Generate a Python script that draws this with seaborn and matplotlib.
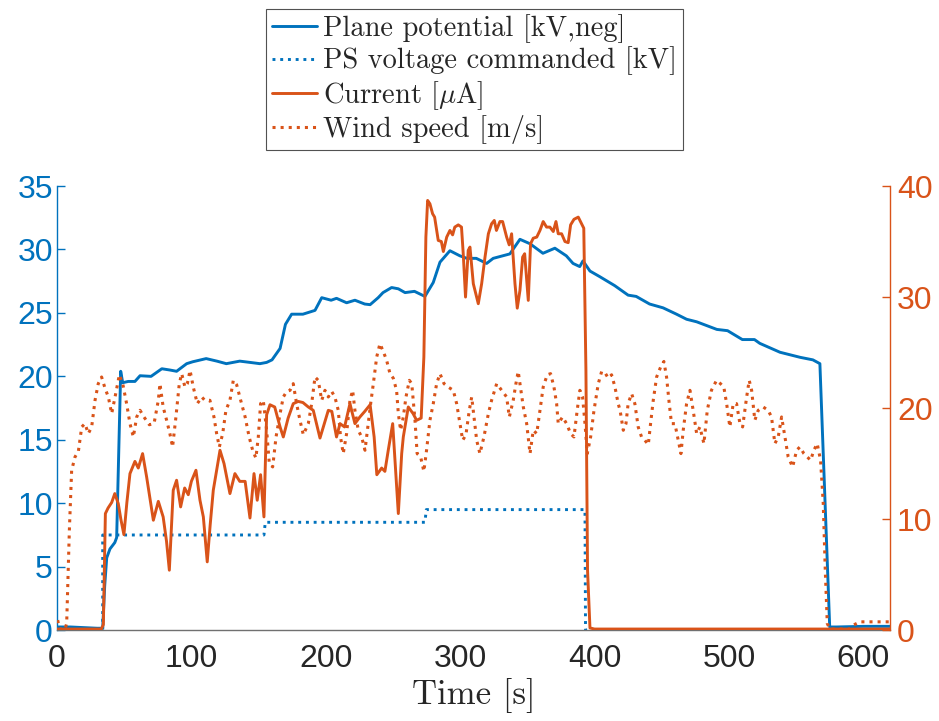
import numpy as np
import pandas as pd
import matplotlib
matplotlib.use("Agg")
import matplotlib.pyplot as plt
import seaborn as sns

# plane potential [kV] (left axis)
plane_t = [0, 10, 20, 30, 34, 35.5, 37, 39.4, 43, 44.4, 47.4, 48.9, 53, 58, 61.8, 70, 78, 84, 89,
           96.5, 101, 111, 119, 126, 136, 143.6, 151, 156, 160, 166, 170, 174.6, 183, 192, 197, 204,
           208, 215.5, 221.7, 229, 233, 239, 242.6, 249, 254, 259, 266, 273.8, 280, 285, 292.4,
           299.8, 305, 312, 319.7, 324.6, 337, 344.5, 352, 361.6, 370.5, 379, 384, 389, 391.4,
           396.6, 404, 415, 425, 431, 441, 451, 461, 468.5, 476, 491, 499, 510, 519, 523, 538, 553,
           562.5, 567.7, 575, 580, 600, 620]
plane_kv = [0.25, 0.25, 0.2, 0.15, 0.15, 3.5, 5.7, 6.4, 6.9, 7.3, 20.4, 19.5, 19.6, 19.6, 20.05,
            20.0, 20.6, 20.5, 20.4, 21.0, 21.15, 21.4, 21.2, 21.0, 21.2, 21.1, 21.0, 21.1, 21.3,
            22.2, 24.1, 24.9, 24.9, 25.2, 26.2, 26.0, 26.15, 25.8, 26.0, 25.7, 25.65, 26.2, 26.6,
            27.0, 26.9, 26.6, 26.7, 26.3, 27.4, 29.0, 29.9, 29.5, 29.3, 29.3, 28.9, 29.3, 29.65,
            30.8, 30.45, 29.7, 30.1, 29.5, 28.9, 28.65, 29.1, 28.3, 27.85, 27.15, 26.4, 26.3, 25.7,
            25.4, 24.9, 24.5, 24.3, 23.7, 23.6, 22.9, 22.9, 22.6, 21.9, 21.5, 21.3, 21.0, 0.25,
            0.25, 0.3, 0.3]

# PS voltage commanded [kV] (left axis)
ps_t = [0, 34, 34, 154, 155, 273.8, 274.8, 392.9, 393.3, 620]
ps_kv = [0, 0, 7.5, 7.5, 8.5, 8.5, 9.5, 9.5, 0, 0]

# current [uA] (right axis)
current_t = [0, 33, 34.5, 36, 38, 40.7, 43, 45.6, 47.5, 49.8, 52, 54.3, 58, 60.5, 63.7, 66.7, 71.7,
             75.4, 79, 81.5, 83.6, 86.5, 89, 92, 95, 97.7, 100, 103.4, 106.4, 108.9, 111.8, 114,
             116.3, 121.3, 124.3, 128.7, 132.4, 136, 140, 143.6, 146.6, 149, 151.5, 154, 156,
             158.5, 162, 166, 168.4, 172, 175.8, 179.5, 183, 187, 190.7, 195.7, 201.9, 204.5, 208,
             210.6, 214, 218, 221.7, 225.4, 229, 233, 236, 238, 241.6, 244, 246.5, 249.8, 251.5,
             254, 256.5, 257.7, 261.4, 265, 267.6, 271, 273, 274.5, 275.8, 277.5, 279.5, 281,
             283.7, 286, 287.5, 290, 292.4, 294.4, 296, 298.6, 301, 302.3, 304, 306, 307.3, 309.8,
             312.3, 313.5, 316, 318.5, 321, 323.4, 325.4, 327, 329.6, 331.6, 334.6, 336.5, 338.3,
             340.8, 342.5, 344.5, 346.5, 348, 349.5, 350.7, 352.4, 354.4, 357, 359.4, 361.8, 364.3,
             366.8, 369.3, 371.3, 373, 375.5, 378, 380.4, 382.2, 384.7, 387.9, 390.4, 392, 393.6,
             394.8, 396.6, 400, 620]
current_ua = [0.1, 0.1, 0.5, 10.5, 11.0, 11.5, 12.3, 11.4, 10.0, 8.6, 11.5, 14.1, 15.2, 14.6, 15.9,
              13.8, 9.9, 11.6, 10.2, 8.0, 5.4, 12.6, 13.5, 11.1, 12.8, 12.2, 13.4, 14.4, 11.7, 10.2,
              6.15, 9.5, 12.6, 16.2, 15.0, 12.3, 14.1, 13.4, 13.4, 10.1, 14.1, 11.7, 14.0, 10.2,
              19.4, 20.3, 20.1, 18.3, 17.4, 19.1, 20.4, 20.6, 20.5, 20.1, 19.8, 17.3, 19.8, 19.7,
              17.4, 18.6, 18.3, 20.4, 18.6, 19.2, 19.7, 20.3, 17.4, 14.0, 14.6, 14.3, 16.2, 18.6,
              15.3, 10.5, 15.9, 17.4, 20.1, 19.5, 18.9, 19.1, 24.6, 35.4, 38.7, 38.4, 37.5, 37.2,
              35.1, 35.0, 34.1, 35.4, 36.0, 35.6, 36.3, 36.5, 36.3, 33.9, 30.0, 34.2, 34.5, 31.2,
              30.0, 29.4, 31.2, 33.6, 35.7, 36.6, 36.9, 36.0, 36.8, 36.8, 35.4, 34.7, 35.7, 31.2,
              29.0, 30.6, 33.6, 33.9, 31.5, 29.7, 34.8, 35.3, 35.4, 36.0, 36.8, 36.3, 36.3, 35.9,
              36.8, 35.7, 35.7, 35.0, 34.9, 36.5, 37.0, 37.2, 36.6, 36.2, 23.4, 5.4, 0.2, 0.1, 0.1]

# wind speed [m/s] (right axis)
wind_t = [0.5, 2, 6, 7.2, 9.2, 10.9, 13.4, 15.9, 18.4, 20.8, 23.3, 25.8, 28.3, 30.7, 33.2, 35.7,
          38.2, 40.7, 43.2, 46.4, 48.9, 51.8, 54.3, 56.8, 59.3, 61.8, 64.7, 68.7, 72.2, 75.4, 76.6,
          79, 81.6, 84, 86, 88.5, 91, 92.8, 95.2, 97, 99, 101.4, 104.4, 107.7, 110, 113.8, 116.8,
          118.8, 120.8, 123.3, 125.7, 128.7, 131.2, 133.7, 136.7, 140, 143, 145.6, 148, 149.8,
          151.5, 153.5, 156, 158, 160.5, 163, 166, 168.4, 171, 173.4, 175.8, 178.3, 180.8, 183.3,
          187, 189.5, 192, 194.4, 197, 199.4, 201.9, 204.4, 206.8, 209.3, 211, 213, 215.5, 218,
          220, 221.7, 224.2, 226.7, 229.2, 231.6, 233.4, 235.4, 237.9, 240.3, 242.8, 245.3, 247.8,
          250.2, 252.7, 254, 255.7, 257.7, 259.7, 262.2, 264, 266.4, 268, 270.6, 273, 275, 277.5,
          280, 282.5, 285, 288, 291, 294.9, 297.4, 299.9, 301.9, 304.3, 306.8, 308.6, 310.3,
          312.3, 314.7, 317.7, 321, 323.4, 327.2, 330.9, 334.6, 336.6, 339.5, 341.5, 343.2, 344.5,
          347, 349.5, 352, 354.4, 357, 359.4, 361.8, 364.8, 367.3, 369.8, 371.8, 373, 376.2,
          379.2, 382.2, 384.7, 387.1, 389.1, 391.1, 392.9, 394.6, 397.1, 399.6, 402.8, 405.3,
          407.7, 410.2, 412.7, 415.2, 417.6, 419, 421.4, 423.4, 425, 427.6, 430, 432.5, 435,
          437.5, 440, 441.7, 443.7, 446.2, 449.2, 451.6, 453.6, 455.6, 457.3, 459.8, 462.3, 464.3,
          466, 468.5, 471, 473.4, 476, 478.4, 481.4, 483.9, 487, 490.8, 493.7, 496.2, 498.3,
          500.7, 503.2, 505.7, 508.2, 510.2, 513.2, 515.1, 516.9, 519.3, 521.8, 525.5, 529.2,
          531.7, 534.2, 536.7, 539.2, 541.7, 544.1, 547.4, 550.4, 552.8, 555.8, 558.3, 560.8,
          563.2, 565.7, 568.2, 570.2, 571.7, 573.2, 575.1, 590, 592.5, 597.5, 620]
wind_ms = [0.9, 0.1, 0.1, 0.6, 9.0, 14.4, 15.6, 16.1, 18.3, 18.6, 17.7, 18.3, 20.7, 22.2, 22.8, 21.8,
           21.0, 19.5, 21.0, 23.0, 22.2, 20.4, 18.6, 17.4, 19.2, 19.8, 19.2, 18.5, 18.6, 20.7, 22.2,
           20.1, 18.9, 17.7, 16.5, 19.2, 22.2, 23.1, 21.9, 22.2, 23.4, 21.9, 20.4, 21.0, 20.7, 20.7,
           19.2, 17.7, 16.5, 17.7, 19.8, 20.7, 22.5, 22.1, 20.7, 19.2, 17.4, 16.2, 15.5, 17.4, 20.4,
           20.7, 18.0, 15.0, 14.7, 17.4, 19.5, 21.0, 21.5, 21.6, 22.2, 20.4, 18.9, 17.6, 18.6, 20.4,
           22.8, 22.5, 20.7, 21.6, 21.0, 21.5, 21.0, 19.8, 17.4, 15.9, 17.7, 20.7, 21.6, 19.8, 18.0,
           17.4, 16.2, 18.6, 20.4, 22.2, 24.6, 25.8, 25.1, 24.3, 23.1, 22.7, 21.6, 19.5, 18.0, 19.2,
           21.0, 22.5, 22.2, 18.9, 15.9, 15.6, 14.3, 16.2, 18.9, 20.4, 22.2, 23.1, 22.2, 21.9, 21.6,
           20.4, 18.6, 17.1, 17.6, 19.8, 21.0, 19.2, 17.1, 15.9, 17.4, 19.5, 20.7, 22.2, 21.6, 21.0,
           19.2, 20.7, 22.2, 23.3, 22.2, 20.1, 18.6, 15.9, 18.0, 17.7, 19.8, 21.9, 23.0, 23.1, 21.9,
           20.4, 18.6, 19.2, 18.6, 17.7, 17.4, 19.8, 21.6, 21.0, 18.6, 15.9, 17.4, 19.8, 22.2, 23.3,
           23.2, 22.7, 23.0, 21.9, 20.4, 19.8, 18.0, 18.6, 20.4, 21.3, 20.4, 18.3, 17.4, 17.1, 16.7,
           18.6, 20.7, 22.8, 23.7, 24.2, 22.8, 20.4, 18.6, 18.6, 17.1, 15.9, 18.0, 20.4, 21.6, 19.8,
           17.7, 18.3, 16.8, 19.8, 21.6, 22.5, 22.2, 21.9, 20.4, 18.3, 20.4, 20.4, 18.6, 18.3, 21.0,
           22.5, 21.6, 18.9, 19.8, 20.1, 19.8, 19.2, 16.8, 17.4, 19.2, 17.4, 15.6, 14.7, 16.2, 16.5,
           15.9, 15.6, 15.3, 16.2, 16.8, 15.3, 11.4, 5.4, 0.6, 0.1, 0.1, 0.45, 0.75, 0.75]

labels = ["Plane potential [kV,neg]", "PS voltage commanded [kV]",
          r"Current [$\mu$A]", "Wind speed [m/s]"]

BLUE = "#0072BD"
ORANGE = "#D95319"

sns.set_style("white")
plt.rcParams["font.family"] = ["Liberation Sans", "DejaVu Sans"]
plt.rcParams["mathtext.fontset"] = "cm"

fig, ax = plt.subplots(figsize=(9.39, 7.21), dpi=100)
fig.subplots_adjust(left=0.0607, right=0.948, bottom=0.126, top=0.742)
ax2 = ax.twinx()

# left axis: voltages
sns.lineplot(x=plane_t, y=plane_kv, ax=ax, color=BLUE, lw=2.1, sort=False,
             estimator=None, legend=False, label=labels[0])
sns.lineplot(x=ps_t, y=ps_kv, ax=ax, color=BLUE, lw=2.1, linestyle=":", sort=False,
             estimator=None, legend=False, label=labels[1])
# right axis: current and wind
sns.lineplot(x=current_t, y=current_ua, ax=ax2, color=ORANGE, lw=2.1, sort=False,
             estimator=None, legend=False, label=labels[2])
sns.lineplot(x=wind_t, y=wind_ms, ax=ax2, color=ORANGE, lw=2.2, linestyle=":", sort=False,
             estimator=None, legend=False, label=labels[3])

ax.set_xlim(0, 620)
ax.set_ylim(0, 35)
ax2.set_ylim(0, 40)
ax.set_xticks(range(0, 601, 100))
ax.set_yticks(range(0, 36, 5))
ax2.set_yticks(range(0, 41, 10))

# MATLAB-like axes
for s in ["top", "right"]:
    ax.spines[s].set_visible(False)
for s in ["top", "left", "bottom"]:
    ax2.spines[s].set_visible(False)
ax.spines["left"].set_color(BLUE)
ax.spines["bottom"].set_color("#707070")
ax2.spines["right"].set_color(ORANGE)
for sp in [ax.spines["left"], ax.spines["bottom"], ax2.spines["right"]]:
    sp.set_linewidth(1.0)

ax.tick_params(axis="y", direction="in", colors=BLUE, labelsize=23, length=6, width=1, pad=3)
ax.tick_params(axis="x", direction="in", color="#707070", labelcolor="#262626", labelsize=23,
               length=6, width=1, pad=10)
ax2.tick_params(axis="y", direction="in", colors=ORANGE, labelsize=23, length=6, width=1, pad=5)
ax.set_ylabel("")
ax2.set_ylabel("")
ax.set_xlabel("Time [s]", fontsize=25, family="cmr10", color="#262626", labelpad=3)

h1, l1 = ax.get_legend_handles_labels()
h2, l2 = ax2.get_legend_handles_labels()
leg = fig.legend(h1 + h2, l1 + l2, loc="upper center", bbox_to_anchor=(0.505, 0.988),
                 prop={"family": "cmr10", "size": 20.5}, frameon=True, fancybox=False,
                 edgecolor="#262626", handlelength=1.6, handletextpad=0.2, labelspacing=0.12,
                 borderpad=0.2, borderaxespad=0)
leg.get_frame().set_linewidth(0.8)

fig.savefig("out.png", dpi=100)
